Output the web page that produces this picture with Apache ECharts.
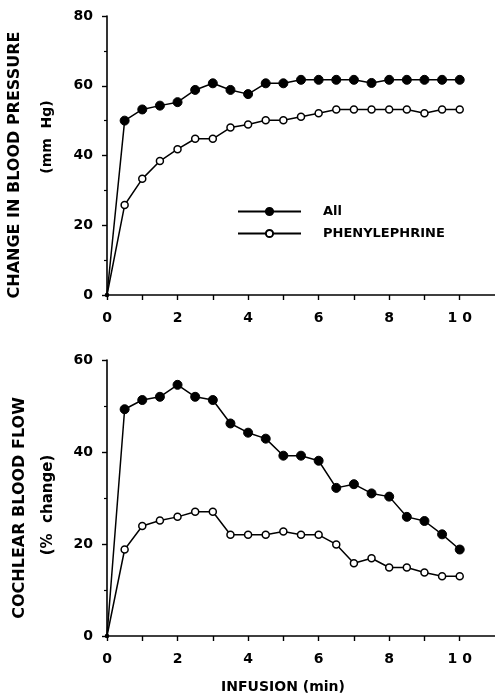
<!DOCTYPE html>
<html>
<head>
<meta charset="utf-8">
<script src="https://cdn.jsdelivr.net/npm/echarts@6/dist/echarts.min.js"></script>
<style>html,body{margin:0;padding:0;background:#fff;}#c{width:495px;height:696px;}</style>
</head>
<body>
<div id="c"></div>
<script>
var times = [0, 0.5, 1, 1.5, 2, 2.5, 3, 3.5, 4, 4.5, 5, 5.5, 6, 6.5, 7, 7.5, 8, 8.5, 9, 9.5, 10];
var bpAll = [0, 50, 53.2, 54.3, 55.3, 58.8, 60.7, 58.8, 57.6, 60.7, 60.7, 61.7, 61.7, 61.7, 61.7, 60.8, 61.7, 61.7, 61.7, 61.7, 61.7];
var bpPhen = [0, 25.8, 33.3, 38.4, 41.8, 44.8, 44.8, 48, 48.9, 50.1, 50.1, 51.1, 52.1, 53.2, 53.2, 53.2, 53.2, 53.2, 52.1, 53.2, 53.2];
var cbfAll = [0, 49.3, 51.3, 52.0, 54.6, 52.0, 51.3, 46.2, 44.2, 42.9, 39.2, 39.2, 38.1, 32.2, 33.0, 31.0, 30.3, 25.9, 25.0, 22.1, 18.8];
var cbfPhen = [0, 18.8, 23.9, 25.1, 25.9, 27.0, 27.0, 22.0, 22.0, 22.0, 22.7, 22.0, 22.0, 19.9, 15.8, 16.9, 14.9, 14.9, 13.8, 13.0, 13.0];
var xTickLabels = [0, 2, 4, 6, 8, 10];
var seriesNames = ['All', 'PHENYLEPHRINE'];
var titles = ['CHANGE IN BLOOD PRESSURE', '(mm  Hg)', 'COCHLEAR BLOOD FLOW', '(%  change)', 'INFUSION (min)'];

function pairs(ys) { return times.map(function (t, i) { return [t, ys[i]]; }); }

var FONT = '"DejaVu Sans", Arial, sans-serif';
var axisLine = { show: true, lineStyle: { color: '#000', width: 1.6 } };

function xAxisDef(gi) {
  return {
    type: 'value', gridIndex: gi, min: 0, max: 11, interval: 1,
    axisLine: axisLine,
    axisTick: { show: true, length: 5, lineStyle: { color: '#000', width: 1.4 }, customValues: [0,1,2,3,4,5,6,7,8,9,10] },
    axisLabel: {
      margin: 16, color: '#000', fontSize: 14, fontWeight: 'bold', fontFamily: FONT,
      customValues: xTickLabels,
      formatter: function (v) { return xTickLabels.indexOf(v) >= 0 ? (v === 10 ? '1 0' : String(v)) : ''; }
    },
    splitLine: { show: false }
  };
}
function yAxisDef(gi, max) {
  return {
    type: 'value', gridIndex: gi, min: 0, max: max, interval: 20,
    axisLine: axisLine,
    axisTick: { show: true, length: 5, lineStyle: { color: '#000', width: 1.4 } },
    minorTick: { show: true, splitNumber: 2, length: 3, lineStyle: { color: '#000', width: 1.2 } },
    axisLabel: { margin: 14, color: '#000', fontSize: 14, fontWeight: 'bold', fontFamily: FONT },
    splitLine: { show: false }
  };
}
function lineSeries(name, data, gi, filled) {
  return {
    name: name, type: 'line', xAxisIndex: gi, yAxisIndex: gi, data: pairs(data),
    symbol: 'circle',
    symbolSize: function (v) { return v[0] === 0 ? 3 : (filled ? 9 : 7); },
    showAllSymbol: true,
    lineStyle: { color: '#000', width: 1.5 },
    itemStyle: filled ? { color: '#000', borderColor: '#000', borderWidth: 1 } : { color: '#fff', borderColor: '#000', borderWidth: 1.5 },
    emphasis: { disabled: true }, animation: false, z: filled ? 3 : 2
  };
}

var chart = echarts.init(document.getElementById('c'), null, { renderer: 'canvas' });
chart.setOption({
  backgroundColor: '#fff',
  animation: false,
  grid: [
    { left: 107, right: 0, top: 16, bottom: 401, containLabel: false },
    { left: 107, right: 0, top: 360, bottom: 60, containLabel: false }
  ],
  xAxis: [xAxisDef(0), xAxisDef(1)],
  yAxis: [yAxisDef(0, 80), yAxisDef(1, 60)],
  legend: {
    orient: 'vertical', left: 237, top: 205, padding: 0, itemWidth: 63, itemHeight: 9, itemGap: 9,
    data: seriesNames, selectedMode: false,
    textStyle: { color: '#000', fontSize: 13, fontWeight: 'bold', fontFamily: FONT, padding: [0, 0, 0, 17] }
  },
  graphic: [
    { type: 'text', x: 15, y: 165, rotation: Math.PI / 2, style: { text: titles[0], fill: '#000', font: 'bold 16px ' + FONT, textAlign: 'center', textVerticalAlign: 'middle' } },
    { type: 'text', x: 47, y: 137, rotation: Math.PI / 2, style: { text: titles[1], fill: '#000', font: 'bold 14px ' + FONT, textAlign: 'center', textVerticalAlign: 'middle' } },
    { type: 'text', x: 20, y: 508, rotation: Math.PI / 2, style: { text: titles[2], fill: '#000', font: 'bold 16px ' + FONT, textAlign: 'center', textVerticalAlign: 'middle' } },
    { type: 'text', x: 48, y: 505, rotation: Math.PI / 2, style: { text: titles[3], fill: '#000', font: 'bold 15px ' + FONT, textAlign: 'center', textVerticalAlign: 'middle' } },
    { type: 'text', x: 283, y: 687, style: { text: titles[4], fill: '#000', font: 'bold 14px ' + FONT, textAlign: 'center', textVerticalAlign: 'middle' } }
  ],
  series: [
    lineSeries(seriesNames[1], bpPhen, 0, false),
    lineSeries(seriesNames[0], bpAll, 0, true),
    lineSeries(seriesNames[1], cbfPhen, 1, false),
    lineSeries(seriesNames[0], cbfAll, 1, true)
  ]
});
</script>
</body>
</html>
